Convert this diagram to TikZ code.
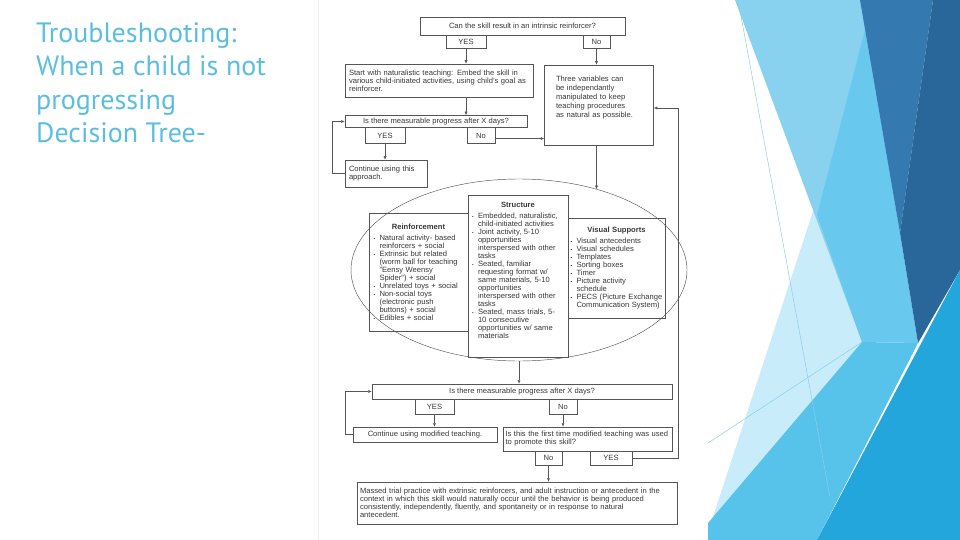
\documentclass[tikz,border=0pt]{standalone}
\usepackage{fontspec}
\setmainfont{Liberation Sans}
\newfontfamily\titlefont{PT Sans}
\usetikzlibrary{arrows.meta,shapes.geometric}

\definecolor{titleblue}{RGB}{92,190,222}
\definecolor{inkgray}{RGB}{55,55,55}
\definecolor{linegray}{RGB}{85,85,85}
\definecolor{facetlight}{RGB}{136,210,240}
\definecolor{facetcyan}{RGB}{104,200,237}
\definecolor{facetsteel}{RGB}{52,121,175}
\definecolor{facetdark}{RGB}{41,103,154}
\definecolor{facetpale}{RGB}{200,236,249}
\definecolor{facetband}{RGB}{88,195,234}
\definecolor{facetbright}{RGB}{35,166,220}
\definecolor{facetline}{RGB}{140,206,232}

\newcommand{\diagfont}{\fontsize{7.6}{8}\selectfont}
\newcommand{\bitem}{\makebox[6pt][l]{\fontsize{4.5}{4.5}\selectfont\textbullet}}
\newcommand{\bcont}{\hspace*{6pt}}

\begin{document}
\begin{tikzpicture}
        [x=1pt, y=-1pt,
        box/.style={draw=linegray, line width=.5pt, text=inkgray, inner sep=0pt, font=\diagfont, align=center},
        answer/.style={box, minimum height=13pt},
        panel/.style={box, align=left},
        flow/.style={draw=linegray, line width=.45pt, -{Latex[length=3.5pt,width=3pt]}},
        facet/.style={draw=none}]

        \useasboundingbox (0,0) rectangle (960,540);

        % slide decoration on the right
        \fill [facetpale] (815,205) -- (862,342) -- (712,520) -- cycle;
        \fill [facetlight] (735,0) -- (862,0) -- (900,233) -- (862,342) -- cycle;
        \fill [facetcyan] (865,30) -- (900,233) -- (918,343) -- (862,342) -- (817,215) -- cycle;
        \fill [facetsteel] (860,0) -- (933,0) -- (900,233) -- cycle;
        \fill [facetdark] (933,0) -- (960,0) -- (960,270) -- (918,343) -- (900,233) -- cycle;
        \fill [facetband] (708,523) -- (862,342) -- (918,343) -- (817,540) -- (708,540) -- cycle;
        \fill [facetbright] (817,540) -- (960,540) -- (960,270) -- cycle;
        \draw [facetline, line width=.5pt] (738,0) -- (830,497);
        \draw [facetline, line width=.5pt] (708,443) -- (862,342);
        \draw [black!6, line width=.6pt] (318,0) -- (318,540);

        \node [font=\titlefont\fontsize{28}{33.3}\selectfont, text=titleblue, align=left, anchor=north west, inner sep=0pt] (title) at (36,22.5)
            {Troubleshooting:\\When a child is not\\progressing\\Decision Tree-};

        % first question
        \node [box, minimum width=205pt, minimum height=18pt] (Q1) at (522.5,26) {Can the skill result in an intrinsic reinforcer?};
        \node [answer, minimum width=40pt] (Y1) at (466,41.5) {YES};
        \node [answer, minimum width=27pt] (N1) at (596.5,41.5) {No};

        \node [box, minimum width=188pt, minimum height=33pt, text width=180pt, align=left] (S) at (439,80.5)
            {Start with naturalistic teaching: Embed the skill in\\various child-initiated activities, using child's goal as\\reinforcer.};
        \node [box, minimum width=109pt, minimum height=80pt, text width=86pt, align=left, font=\fontsize{7.6}{9}\selectfont] (V) at (599,105)
            {Three variables can\\be independantly\\manipulated to keep\\teaching procedures\\as natural as possible.\\[8pt]\mbox{}};

        \node [box, minimum width=182pt, minimum height=12pt] (Q2) at (436,121.5) {Is there measurable progress after X days?};
        \node [answer, minimum width=40pt, minimum height=16pt] (Y2) at (385,135.5) {YES};
        \node [answer, minimum width=28pt, minimum height=16pt] (N2) at (481,135.5) {No};
        \node [box, minimum width=82pt, minimum height=27pt, text width=74pt, align=left] (C1) at (386,173.5) {Continue using this\\approach.};

        % the three variables
        \node [draw=linegray, line width=.45pt, ellipse, minimum width=336pt, minimum height=182pt, inner sep=0pt] (E) at (519,270) {};

        \node [panel, minimum width=99pt, minimum height=118pt, text width=90pt] (R) at (418.5,272)
            {\makebox[90pt][c]{\textbf{Reinforcement}}\\[3pt]
            \bitem Natural activity- based\\
            \bcont reinforcers + social\\
            \bitem Extrinsic but related\\
            \bcont (worm ball for teaching\\
            \bcont "Eensy Weensy\\
            \bcont Spider") + social\\
            \bitem Unrelated toys + social\\
            \bitem Non-social toys\\
            \bcont (electronic push\\
            \bcont buttons) + social\\
            \bitem Edibles + social};
        \node [panel, minimum width=100pt, minimum height=162pt, text width=92pt] (T) at (518,276)
            {\makebox[92pt][c]{\textbf{Structure}}\\[3pt]
            \bitem Embedded, naturalistic,\\
            \bcont child-initiated activities\\
            \bitem Joint activity, 5-10\\
            \bcont opportunities\\
            \bcont interspersed with other\\
            \bcont tasks\\
            \bitem Seated, familiar\\
            \bcont requesting format w/\\
            \bcont same materials, 5-10\\
            \bcont opportunities\\
            \bcont interspersed with other\\
            \bcont tasks\\
            \bitem Seated, mass trials, 5-\\
            \bcont 10 consecutive\\
            \bcont opportunities w/ same\\
            \bcont materials\\[4pt]\mbox{}};
        \node [panel, minimum width=97pt, minimum height=100pt, text width=92pt] (P) at (616.5,268)
            {\makebox[92pt][c]{\textbf{Visual Supports}}\\[3pt]
            \bitem Visual antecedents\\
            \bitem Visual schedules\\
            \bitem Templates\\
            \bitem Sorting boxes\\
            \bitem Timer\\
            \bitem Picture activity\\
            \bcont schedule\\
            \bitem PECS (Picture Exchange\\
            \bcont Communication System)};

        % second question
        \node [box, minimum width=300pt, minimum height=15pt] (Q3) at (522,391.5) {Is there measurable progress after X days?};
        \node [answer, minimum width=39pt, minimum height=15pt] (Y3) at (434.5,406.5) {YES};
        \node [answer, minimum width=28pt, minimum height=15pt] (N3) at (563,406.5) {No};
        \node [box, minimum width=144pt, minimum height=15pt] (C2) at (425,434.5) {Continue using modified teaching.};
        \node [box, minimum width=169pt, minimum height=24pt, text width=164pt, align=left] (F) at (587.5,439)
            {Is this the first time modified teaching was used\\to promote this skill?};
        \node [answer, minimum width=27pt, minimum height=14pt] (N4) at (548.5,458) {No};
        \node [answer, minimum width=42pt, minimum height=14pt] (Y4) at (611,458) {YES};
        \node [box, minimum width=320pt, minimum height=42pt, text width=314pt, align=left] (M) at (517,503)
            {Massed trial practice with extrinsic reinforcers, and adult instruction or antecedent in the\\
            context in which this skill would naturally occur until the behavior is being produced\\
            consistently, independently, fluently, and spontaneity or in response to natural\\
            antecedent.};

        \draw [flow] (Y1.south) -- (Y1.south |- S.north);
        \draw [flow] (N1.south) -- (N1.south |- V.north);
        \draw [flow] (S.south -| Y1) -- (Q2.north -| Y1);
        \draw [flow] (Y2.south) -- (Y2.south |- C1.north);
        \draw [flow] (C1.west) -- ++(-13,0) |- (Q2.west);
        \draw [flow] ([yshift=-3pt]N2.east) -- ([yshift=-3pt]N2.east -| V.west);
        \draw [flow] (N1.south |- V.south) -- (N1.south |- E.46);
        \draw [flow] (E.south) -- (E.south |- Q3.north);
        \draw [flow] (Y3.south) -- (Y3.south |- C2.north);
        \draw [flow] (C2.west) -- ++(-8,0) |- (Q3.west);
        \draw [flow] (N3.south) -- (N3.south |- F.north);
        \draw [flow] (N4.south) -- (N4.south |- M.north);
        \draw [flow] (Y4.east) -- ++(46,0) |- ([yshift=-3pt]V.east);
    \end{tikzpicture}
\end{document}
